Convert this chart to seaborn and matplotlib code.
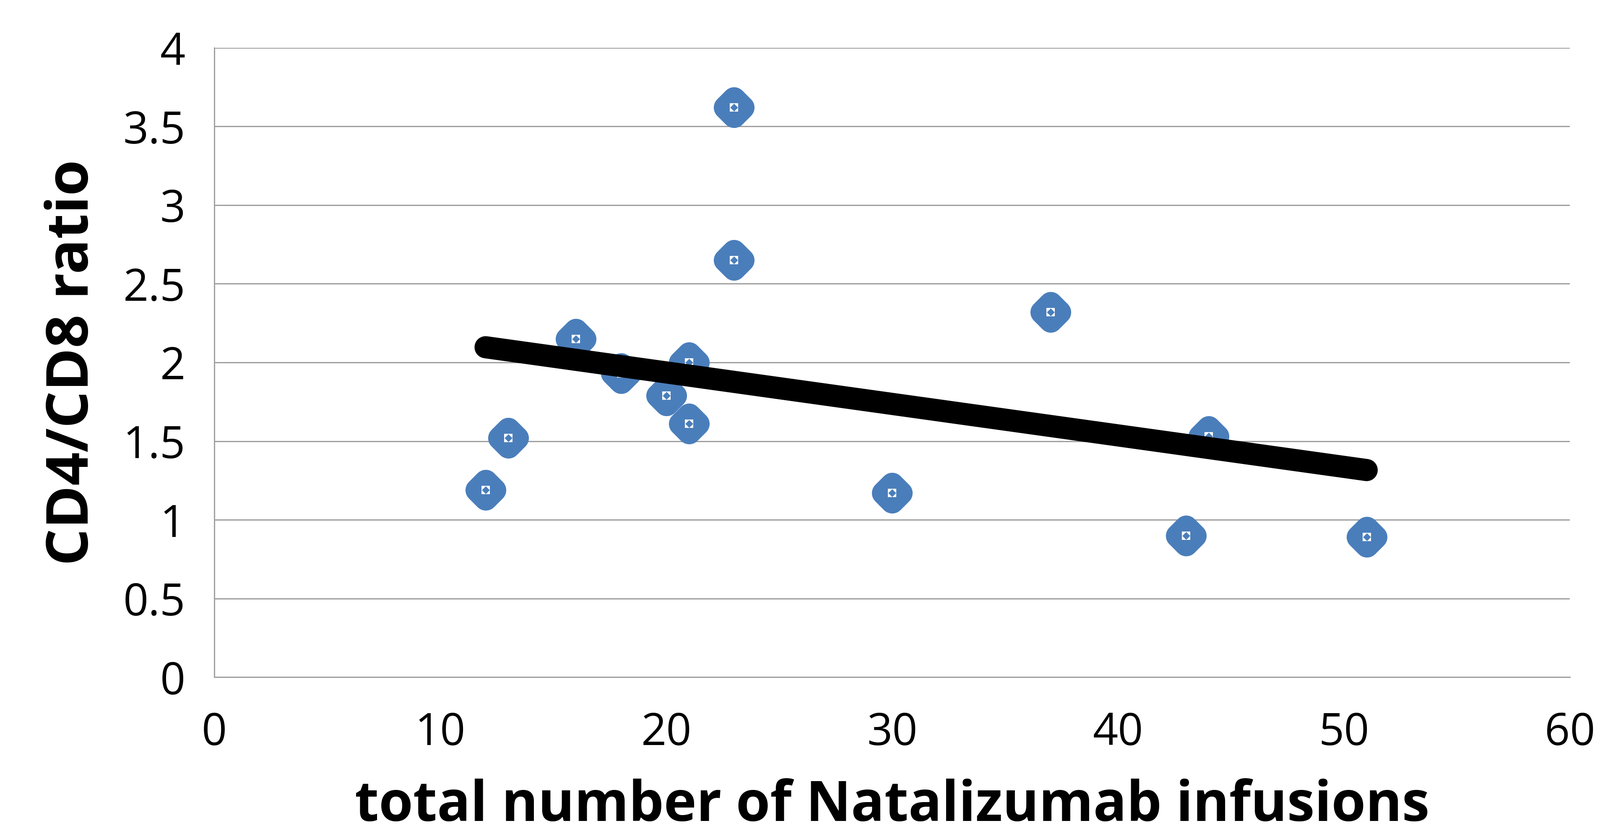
import matplotlib
matplotlib.use("Agg")
import matplotlib.pyplot as plt
import numpy as np
import pandas as pd
import seaborn as sns
from matplotlib.markers import MarkerStyle

# values
infusions = [12, 13, 16, 18, 20, 21, 21, 23, 23, 30, 37, 43, 44, 51]
cd4_cd8_ratio = [1.19, 1.52, 2.15, 1.93, 1.79, 2.00, 1.61, 3.62, 2.65, 1.17, 2.32, 0.90, 1.53, 0.89]
x_ticks = [0, 10, 20, 30, 40, 50, 60]
y_ticks = [0, 0.5, 1, 1.5, 2, 2.5, 3, 3.5, 4]
y_tick_labels = ["0", "0.5", "1", "1.5", "2", "2.5", "3", "3.5", "4"]

df = pd.DataFrame({"infusions": infusions, "ratio": cd4_cd8_ratio})

sns.set_style("white")
plt.rcParams["font.family"] = ["Open Sans", "DejaVu Sans"]
plt.rcParams["text.color"] = "black"
plt.rcParams["axes.labelcolor"] = "black"

blue = "#4A7EBB"
grid_gray = "#A0A0A0"

fig = plt.figure(figsize=(38.16, 20), dpi=100)
ax = fig.add_axes([0.134, 0.193, 0.847, 0.750])

ax.set_axisbelow(True)
ax.yaxis.grid(True, color=grid_gray, linewidth=2.2)
ax.xaxis.grid(False)

# data markers: rounded diamond with small white square + tiny diamond inside
big = MarkerStyle("D", joinstyle="round")
sns.scatterplot(data=df, x="infusions", y="ratio", ax=ax, marker=big, s=450,
                color=blue, edgecolor=blue, linewidth=40, zorder=3, legend=False)
ax.scatter(df["infusions"], df["ratio"], marker="s", s=190, color="white",
           linewidth=0, zorder=4)
ax.scatter(df["infusions"], df["ratio"], marker="D", s=90, color=blue,
           linewidth=0, zorder=5)

# linear trend line
sns.regplot(data=df, x="infusions", y="ratio", ax=ax, scatter=False, ci=None,
            truncate=True,
            line_kws={"color": "black", "linewidth": 38, "solid_capstyle": "round",
                      "zorder": 6})

ax.set_xlim(0, 60)
ax.set_ylim(0, 4)
ax.set_xticks(x_ticks)
ax.set_yticks(y_ticks)
ax.set_yticklabels(y_tick_labels)

for side in ["top", "right"]:
    ax.spines[side].set_visible(False)
for side in ["left", "bottom"]:
    ax.spines[side].set_color(grid_gray)
    ax.spines[side].set_linewidth(2.2)

ax.tick_params(axis="both", which="major", direction="out", color=grid_gray,
               width=2.2, labelsize=76, labelcolor="black")
ax.tick_params(axis="y", length=20, pad=30)
ax.tick_params(axis="x", length=28, pad=30)

ax.set_xlabel("total number of Natalizumab infusions", fontsize=95,
              fontweight="bold", labelpad=40, color="black")
ax.set_ylabel("CD4/CD8 ratio", fontsize=100, fontweight="bold", labelpad=36,
              color="black")

fig.savefig("out.png", dpi=100, facecolor="white")
